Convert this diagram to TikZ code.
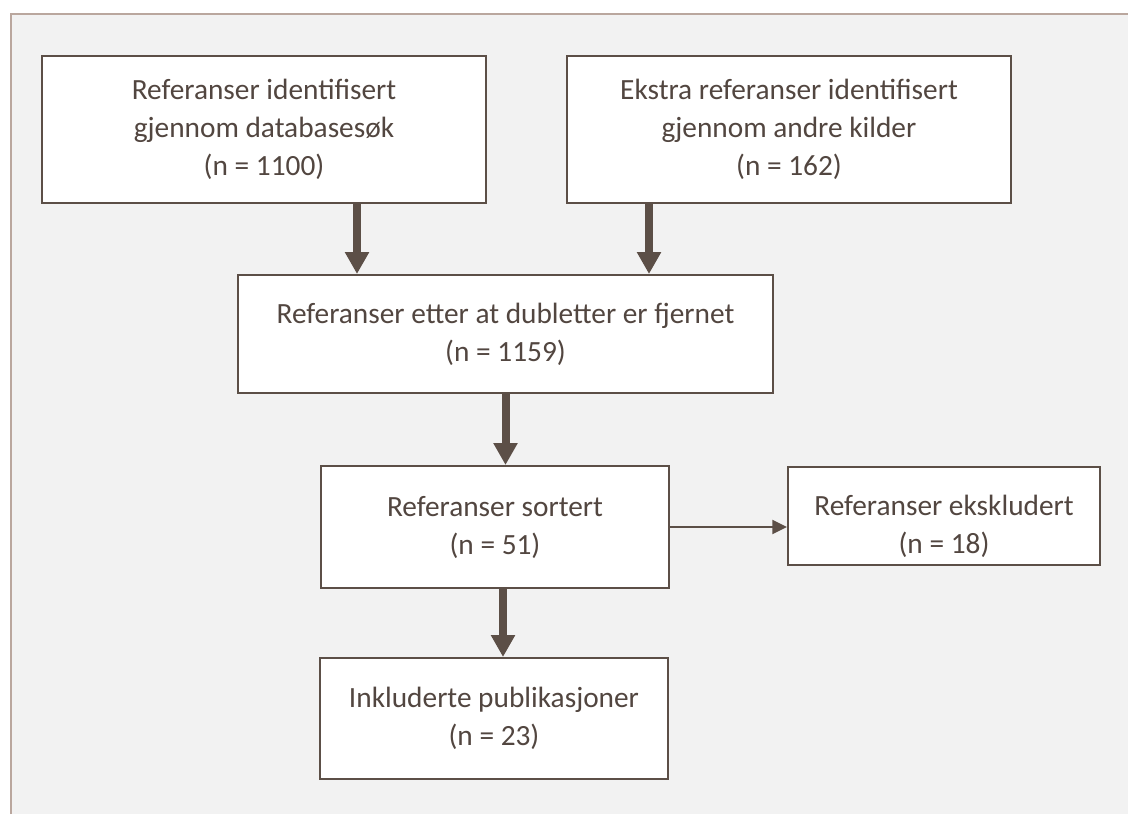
\documentclass[tikz,border=0pt]{standalone}
\usepackage{fontspec}
\setmainfont{Carlito}
\usepackage{tikz}
\usetikzlibrary{arrows.meta}
\definecolor{mbrown}{RGB}{92,79,71}
\definecolor{mtext}{RGB}{82,70,64}
\definecolor{mframe}{RGB}{186,167,158}
\definecolor{mgrey}{RGB}{242,242,242}
\tikzset{box/.style = {draw = mbrown, line width = 1.5pt, fill = white, inner sep = 0,
                       text = mtext, align = center, font = \fontsize{22}{28.5}\selectfont}}
\tikzset{boxtext/.style = {text = mtext, align = center, inner sep = 0,
                           font = \fontsize{22}{28.5}\selectfont}}
\tikzset{fat/.style = {draw = mbrown, line width = 6pt,
                       -{Triangle[width = 17.25pt, length = 16.5pt]}}}
\tikzset{slim/.style = {draw = mbrown, line width = 1.5pt,
                        -{Triangle[width = 10.5pt, length = 11pt]}}}

\begin{document}
\begin{tikzpicture}[x = 0.75pt, y = -0.75pt]
    \useasboundingbox (0, 0) rectangle (1128, 814);

    \fill [mgrey] (11, 14) rectangle (1128, 814);
    \draw [mframe, line width = 1.5pt] (11, 814) -- (11, 14) -- (1128, 14);

    \node [box, minimum width = 333pt, minimum height = 110.25pt] (dbsok) at (264, 129.5)
        {Referanser identifisert\\gjennom databasesøk\\(n = 1100)};
    \node [box, minimum width = 333pt, minimum height = 110.25pt] (andre) at (789, 129.5)
        {Ekstra referanser identifisert\\gjennom andre kilder\\(n = 162)};
    \node [box, minimum width = 401.25pt, minimum height = 88.5pt] (dubl) at (505.5, 334)
        {Referanser etter at dubletter er fjernet\\(n = 1159)};
    \node [box, minimum width = 261pt, minimum height = 91.5pt] (sort) at (495, 527)
        {Referanser sortert\\(n = 51)};
    \node [box, minimum width = 234pt, minimum height = 73.5pt,
           label = {[boxtext, yshift = -7.5pt]center:{Referanser ekskludert\\(n = 18)}}]
        (eksk) at (944, 516) {};
    \node [box, minimum width = 261pt, minimum height = 90.75pt] (inkl) at (494, 718.5)
        {Inkluderte publikasjoner\\(n = 23)};

    \draw [fat] ([xshift = 69.75pt] dbsok.south) -- ([xshift = 69.75pt] dbsok.south |- dubl.north);
    \draw [fat] ([xshift = -105pt] andre.south) -- ([xshift = -105pt] andre.south |- dubl.north);
    \draw [fat] (dubl.south) -- (dubl.south |- sort.north);
    \draw [fat] ([xshift = 6pt] sort.south) -- ([xshift = 6pt] sort.south |- inkl.north);
    \draw [slim] (sort.east) -- (sort.east -| eksk.west);
  \end{tikzpicture}
\end{document}
